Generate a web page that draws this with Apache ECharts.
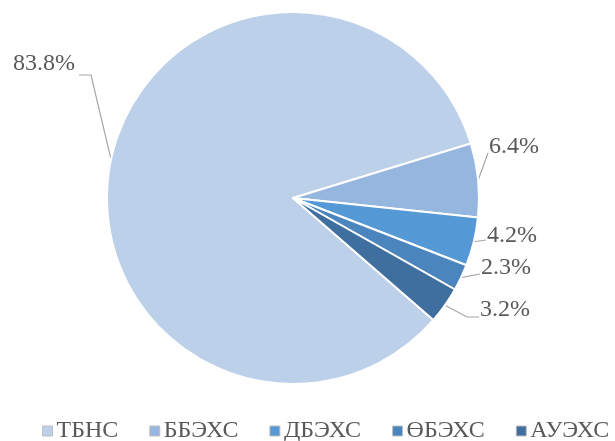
<!DOCTYPE html>
<html>
<head>
<meta charset="utf-8">
<script src="https://cdn.jsdelivr.net/npm/echarts@6/dist/echarts.min.js"></script>
<style>
  html, body { margin: 0; padding: 0; background: #fff; }
  #chart { width: 615px; height: 441px; }
</style>
</head>
<body>
<div id="chart"></div>
<script>
// Share of each category, in percent
const categories = ['ТБНС', 'ББЭХС', 'ДБЭХС', 'ӨБЭХС', 'АУЭХС'];
const shares = [83.8, 6.4, 4.2, 2.3, 3.2];
const colors = ['#BCD0EA', '#95B7DF', '#5598D6', '#4A85BE', '#3F6F9F'];

// Where each value label sits, and the bends of its leader line
const labelSpots = [
  { x: 75,  y: 64,  align: 'right', bends: [[91, 75], [79, 75]] },
  { x: 489, y: 147, align: 'left',  bends: [[488, 153]] },
  { x: 487, y: 236, align: 'left',  bends: [[486, 240]] },
  { x: 481, y: 268, align: 'left',  bends: [[480, 274]] },
  { x: 480, y: 310, align: 'left',  bends: [[467, 317], [479, 317]] }
];

const font = 'Liberation Serif';
const chart = echarts.init(document.getElementById('chart'));
chart.setOption({
  animation: false,
  color: colors,
  textStyle: { fontFamily: font },
  legend: {
    top: 419,
    left: 42,
    padding: 0,
    icon: 'rect',
    itemWidth: 10,
    itemHeight: 10,
    itemGap: 31,
    itemStyle: { borderColor: '#bfbfbf', borderWidth: 1 },
    textStyle: { fontSize: 24, color: '#595959', fontFamily: font, padding: [0, 0, 0, -1] },
    data: categories
  },
  series: [{
    type: 'pie',
    center: [293, 198],
    radius: 186,
    startAngle: 319,
    clockwise: true,
    avoidLabelOverlap: false,
    itemStyle: { borderColor: '#fff', borderWidth: 2 },
    label: {
      show: true,
      position: 'outside',
      formatter: p => p.value.toFixed(1) + '%',
      fontSize: 24,
      color: '#595959',
      fontFamily: font
    },
    labelLine: {
      show: true,
      length: 8,
      length2: 10,
      lineStyle: { color: '#a6a6a6', width: 1.2 }
    },
    labelLayout: params => {
      const s = labelSpots[params.dataIndex];
      const start = params.labelLinePoints ? params.labelLinePoints[0] : null;
      return {
        x: s.x,
        y: s.y,
        align: s.align,
        verticalAlign: 'middle',
        labelLinePoints: start ? [start].concat(s.bends) : undefined
      };
    },
    emphasis: { disabled: true },
    data: categories.map((c, i) => ({ name: c, value: shares[i] }))
  }]
});
</script>
</body>
</html>
